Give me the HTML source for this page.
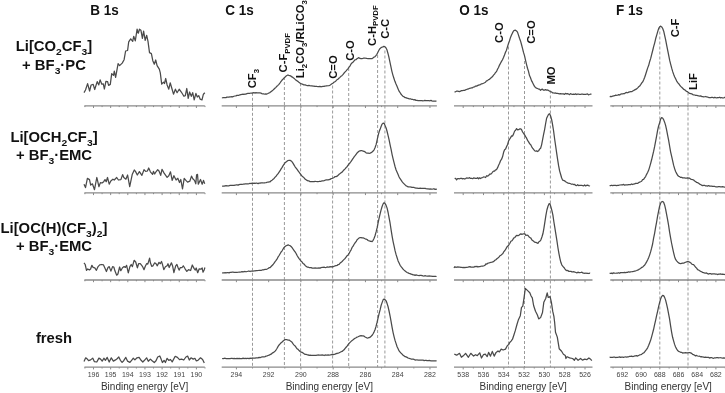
<!DOCTYPE html>
<html><head><meta charset="utf-8"><style>
html,body{margin:0;padding:0;background:#fff;}
svg{display:block;will-change:transform;}
text{font-family:"Liberation Sans",sans-serif;}
</style></head><body>
<svg width="725" height="393" viewBox="0 0 725 393" font-family="Liberation Sans, sans-serif">
<rect width="725" height="393" fill="#fff"/>
<line x1="252.5" y1="92.8" x2="252.5" y2="367.2" stroke="#9a9a9a" stroke-width="1" stroke-dasharray="3,2"/>
<line x1="284.4" y1="77.0" x2="284.4" y2="367.2" stroke="#9a9a9a" stroke-width="1" stroke-dasharray="3,2"/>
<line x1="300.6" y1="83.3" x2="300.6" y2="367.2" stroke="#9a9a9a" stroke-width="1" stroke-dasharray="3,2"/>
<line x1="332.6" y1="85.5" x2="332.6" y2="367.2" stroke="#9a9a9a" stroke-width="1" stroke-dasharray="3,2"/>
<line x1="348.7" y1="68.0" x2="348.7" y2="367.2" stroke="#9a9a9a" stroke-width="1" stroke-dasharray="3,2"/>
<line x1="377.6" y1="55.0" x2="377.6" y2="367.2" stroke="#9a9a9a" stroke-width="1" stroke-dasharray="3,2"/>
<line x1="384.9" y1="50.5" x2="384.9" y2="367.2" stroke="#9a9a9a" stroke-width="1" stroke-dasharray="3,2"/>
<line x1="508.5" y1="46.5" x2="508.5" y2="367.2" stroke="#9a9a9a" stroke-width="1" stroke-dasharray="3,2"/>
<line x1="524.5" y1="61.0" x2="524.5" y2="367.2" stroke="#9a9a9a" stroke-width="1" stroke-dasharray="3,2"/>
<line x1="550.4" y1="90.5" x2="550.4" y2="367.2" stroke="#9a9a9a" stroke-width="1" stroke-dasharray="3,2"/>
<line x1="659.8" y1="26.5" x2="659.8" y2="367.2" stroke="#9a9a9a" stroke-width="1" stroke-dasharray="3,2"/>
<line x1="688.0" y1="92.5" x2="688.0" y2="367.2" stroke="#9a9a9a" stroke-width="1" stroke-dasharray="3,2"/>
<line x1="84.4" y1="105.8" x2="204.8" y2="105.8" stroke="#8a8a8a" stroke-width="1.3"/>
<line x1="84.92" y1="105.8" x2="84.92" y2="107.10" stroke="#8a8a8a" stroke-width="1"/>
<line x1="93.50" y1="105.8" x2="93.50" y2="108.00" stroke="#8a8a8a" stroke-width="1"/>
<line x1="102.08" y1="105.8" x2="102.08" y2="107.10" stroke="#8a8a8a" stroke-width="1"/>
<line x1="110.65" y1="105.8" x2="110.65" y2="108.00" stroke="#8a8a8a" stroke-width="1"/>
<line x1="119.22" y1="105.8" x2="119.22" y2="107.10" stroke="#8a8a8a" stroke-width="1"/>
<line x1="127.80" y1="105.8" x2="127.80" y2="108.00" stroke="#8a8a8a" stroke-width="1"/>
<line x1="136.38" y1="105.8" x2="136.38" y2="107.10" stroke="#8a8a8a" stroke-width="1"/>
<line x1="144.95" y1="105.8" x2="144.95" y2="108.00" stroke="#8a8a8a" stroke-width="1"/>
<line x1="153.52" y1="105.8" x2="153.52" y2="107.10" stroke="#8a8a8a" stroke-width="1"/>
<line x1="162.10" y1="105.8" x2="162.10" y2="108.00" stroke="#8a8a8a" stroke-width="1"/>
<line x1="170.68" y1="105.8" x2="170.68" y2="107.10" stroke="#8a8a8a" stroke-width="1"/>
<line x1="179.25" y1="105.8" x2="179.25" y2="108.00" stroke="#8a8a8a" stroke-width="1"/>
<line x1="187.82" y1="105.8" x2="187.82" y2="107.10" stroke="#8a8a8a" stroke-width="1"/>
<line x1="196.40" y1="105.8" x2="196.40" y2="108.00" stroke="#8a8a8a" stroke-width="1"/>
<line x1="204.97" y1="105.8" x2="204.97" y2="107.10" stroke="#8a8a8a" stroke-width="1"/>
<line x1="84.4" y1="192.9" x2="204.8" y2="192.9" stroke="#8a8a8a" stroke-width="1.3"/>
<line x1="84.92" y1="192.9" x2="84.92" y2="194.20" stroke="#8a8a8a" stroke-width="1"/>
<line x1="93.50" y1="192.9" x2="93.50" y2="195.10" stroke="#8a8a8a" stroke-width="1"/>
<line x1="102.08" y1="192.9" x2="102.08" y2="194.20" stroke="#8a8a8a" stroke-width="1"/>
<line x1="110.65" y1="192.9" x2="110.65" y2="195.10" stroke="#8a8a8a" stroke-width="1"/>
<line x1="119.22" y1="192.9" x2="119.22" y2="194.20" stroke="#8a8a8a" stroke-width="1"/>
<line x1="127.80" y1="192.9" x2="127.80" y2="195.10" stroke="#8a8a8a" stroke-width="1"/>
<line x1="136.38" y1="192.9" x2="136.38" y2="194.20" stroke="#8a8a8a" stroke-width="1"/>
<line x1="144.95" y1="192.9" x2="144.95" y2="195.10" stroke="#8a8a8a" stroke-width="1"/>
<line x1="153.52" y1="192.9" x2="153.52" y2="194.20" stroke="#8a8a8a" stroke-width="1"/>
<line x1="162.10" y1="192.9" x2="162.10" y2="195.10" stroke="#8a8a8a" stroke-width="1"/>
<line x1="170.68" y1="192.9" x2="170.68" y2="194.20" stroke="#8a8a8a" stroke-width="1"/>
<line x1="179.25" y1="192.9" x2="179.25" y2="195.10" stroke="#8a8a8a" stroke-width="1"/>
<line x1="187.82" y1="192.9" x2="187.82" y2="194.20" stroke="#8a8a8a" stroke-width="1"/>
<line x1="196.40" y1="192.9" x2="196.40" y2="195.10" stroke="#8a8a8a" stroke-width="1"/>
<line x1="204.97" y1="192.9" x2="204.97" y2="194.20" stroke="#8a8a8a" stroke-width="1"/>
<line x1="84.4" y1="280.0" x2="204.8" y2="280.0" stroke="#8a8a8a" stroke-width="1.3"/>
<line x1="84.92" y1="280.0" x2="84.92" y2="281.30" stroke="#8a8a8a" stroke-width="1"/>
<line x1="93.50" y1="280.0" x2="93.50" y2="282.20" stroke="#8a8a8a" stroke-width="1"/>
<line x1="102.08" y1="280.0" x2="102.08" y2="281.30" stroke="#8a8a8a" stroke-width="1"/>
<line x1="110.65" y1="280.0" x2="110.65" y2="282.20" stroke="#8a8a8a" stroke-width="1"/>
<line x1="119.22" y1="280.0" x2="119.22" y2="281.30" stroke="#8a8a8a" stroke-width="1"/>
<line x1="127.80" y1="280.0" x2="127.80" y2="282.20" stroke="#8a8a8a" stroke-width="1"/>
<line x1="136.38" y1="280.0" x2="136.38" y2="281.30" stroke="#8a8a8a" stroke-width="1"/>
<line x1="144.95" y1="280.0" x2="144.95" y2="282.20" stroke="#8a8a8a" stroke-width="1"/>
<line x1="153.52" y1="280.0" x2="153.52" y2="281.30" stroke="#8a8a8a" stroke-width="1"/>
<line x1="162.10" y1="280.0" x2="162.10" y2="282.20" stroke="#8a8a8a" stroke-width="1"/>
<line x1="170.68" y1="280.0" x2="170.68" y2="281.30" stroke="#8a8a8a" stroke-width="1"/>
<line x1="179.25" y1="280.0" x2="179.25" y2="282.20" stroke="#8a8a8a" stroke-width="1"/>
<line x1="187.82" y1="280.0" x2="187.82" y2="281.30" stroke="#8a8a8a" stroke-width="1"/>
<line x1="196.40" y1="280.0" x2="196.40" y2="282.20" stroke="#8a8a8a" stroke-width="1"/>
<line x1="204.97" y1="280.0" x2="204.97" y2="281.30" stroke="#8a8a8a" stroke-width="1"/>
<line x1="84.4" y1="367.2" x2="204.8" y2="367.2" stroke="#8a8a8a" stroke-width="1.3"/>
<line x1="84.92" y1="367.2" x2="84.92" y2="368.50" stroke="#8a8a8a" stroke-width="1"/>
<line x1="93.50" y1="367.2" x2="93.50" y2="369.40" stroke="#8a8a8a" stroke-width="1"/>
<line x1="102.08" y1="367.2" x2="102.08" y2="368.50" stroke="#8a8a8a" stroke-width="1"/>
<line x1="110.65" y1="367.2" x2="110.65" y2="369.40" stroke="#8a8a8a" stroke-width="1"/>
<line x1="119.22" y1="367.2" x2="119.22" y2="368.50" stroke="#8a8a8a" stroke-width="1"/>
<line x1="127.80" y1="367.2" x2="127.80" y2="369.40" stroke="#8a8a8a" stroke-width="1"/>
<line x1="136.38" y1="367.2" x2="136.38" y2="368.50" stroke="#8a8a8a" stroke-width="1"/>
<line x1="144.95" y1="367.2" x2="144.95" y2="369.40" stroke="#8a8a8a" stroke-width="1"/>
<line x1="153.52" y1="367.2" x2="153.52" y2="368.50" stroke="#8a8a8a" stroke-width="1"/>
<line x1="162.10" y1="367.2" x2="162.10" y2="369.40" stroke="#8a8a8a" stroke-width="1"/>
<line x1="170.68" y1="367.2" x2="170.68" y2="368.50" stroke="#8a8a8a" stroke-width="1"/>
<line x1="179.25" y1="367.2" x2="179.25" y2="369.40" stroke="#8a8a8a" stroke-width="1"/>
<line x1="187.82" y1="367.2" x2="187.82" y2="368.50" stroke="#8a8a8a" stroke-width="1"/>
<line x1="196.40" y1="367.2" x2="196.40" y2="369.40" stroke="#8a8a8a" stroke-width="1"/>
<line x1="204.97" y1="367.2" x2="204.97" y2="368.50" stroke="#8a8a8a" stroke-width="1"/>
<text x="93.50" y="376.80" font-size="7" text-anchor="middle" fill="#444">196</text>
<text x="110.65" y="376.80" font-size="7" text-anchor="middle" fill="#444">195</text>
<text x="127.80" y="376.80" font-size="7" text-anchor="middle" fill="#444">194</text>
<text x="144.95" y="376.80" font-size="7" text-anchor="middle" fill="#444">193</text>
<text x="162.10" y="376.80" font-size="7" text-anchor="middle" fill="#444">192</text>
<text x="179.25" y="376.80" font-size="7" text-anchor="middle" fill="#444">191</text>
<text x="196.40" y="376.80" font-size="7" text-anchor="middle" fill="#444">190</text>
<text x="144.60" y="389.9" font-size="10" text-anchor="middle" fill="#333">Binding energy [eV]</text>
<line x1="221.7" y1="105.8" x2="436.9" y2="105.8" stroke="#8a8a8a" stroke-width="1.3"/>
<line x1="236.40" y1="105.8" x2="236.40" y2="108.00" stroke="#8a8a8a" stroke-width="1"/>
<line x1="252.53" y1="105.8" x2="252.53" y2="107.10" stroke="#8a8a8a" stroke-width="1"/>
<line x1="268.66" y1="105.8" x2="268.66" y2="108.00" stroke="#8a8a8a" stroke-width="1"/>
<line x1="284.79" y1="105.8" x2="284.79" y2="107.10" stroke="#8a8a8a" stroke-width="1"/>
<line x1="300.92" y1="105.8" x2="300.92" y2="108.00" stroke="#8a8a8a" stroke-width="1"/>
<line x1="317.05" y1="105.8" x2="317.05" y2="107.10" stroke="#8a8a8a" stroke-width="1"/>
<line x1="333.18" y1="105.8" x2="333.18" y2="108.00" stroke="#8a8a8a" stroke-width="1"/>
<line x1="349.31" y1="105.8" x2="349.31" y2="107.10" stroke="#8a8a8a" stroke-width="1"/>
<line x1="365.44" y1="105.8" x2="365.44" y2="108.00" stroke="#8a8a8a" stroke-width="1"/>
<line x1="381.57" y1="105.8" x2="381.57" y2="107.10" stroke="#8a8a8a" stroke-width="1"/>
<line x1="397.70" y1="105.8" x2="397.70" y2="108.00" stroke="#8a8a8a" stroke-width="1"/>
<line x1="413.83" y1="105.8" x2="413.83" y2="107.10" stroke="#8a8a8a" stroke-width="1"/>
<line x1="429.96" y1="105.8" x2="429.96" y2="108.00" stroke="#8a8a8a" stroke-width="1"/>
<line x1="221.7" y1="192.9" x2="436.9" y2="192.9" stroke="#8a8a8a" stroke-width="1.3"/>
<line x1="236.40" y1="192.9" x2="236.40" y2="195.10" stroke="#8a8a8a" stroke-width="1"/>
<line x1="252.53" y1="192.9" x2="252.53" y2="194.20" stroke="#8a8a8a" stroke-width="1"/>
<line x1="268.66" y1="192.9" x2="268.66" y2="195.10" stroke="#8a8a8a" stroke-width="1"/>
<line x1="284.79" y1="192.9" x2="284.79" y2="194.20" stroke="#8a8a8a" stroke-width="1"/>
<line x1="300.92" y1="192.9" x2="300.92" y2="195.10" stroke="#8a8a8a" stroke-width="1"/>
<line x1="317.05" y1="192.9" x2="317.05" y2="194.20" stroke="#8a8a8a" stroke-width="1"/>
<line x1="333.18" y1="192.9" x2="333.18" y2="195.10" stroke="#8a8a8a" stroke-width="1"/>
<line x1="349.31" y1="192.9" x2="349.31" y2="194.20" stroke="#8a8a8a" stroke-width="1"/>
<line x1="365.44" y1="192.9" x2="365.44" y2="195.10" stroke="#8a8a8a" stroke-width="1"/>
<line x1="381.57" y1="192.9" x2="381.57" y2="194.20" stroke="#8a8a8a" stroke-width="1"/>
<line x1="397.70" y1="192.9" x2="397.70" y2="195.10" stroke="#8a8a8a" stroke-width="1"/>
<line x1="413.83" y1="192.9" x2="413.83" y2="194.20" stroke="#8a8a8a" stroke-width="1"/>
<line x1="429.96" y1="192.9" x2="429.96" y2="195.10" stroke="#8a8a8a" stroke-width="1"/>
<line x1="221.7" y1="280.0" x2="436.9" y2="280.0" stroke="#8a8a8a" stroke-width="1.3"/>
<line x1="236.40" y1="280.0" x2="236.40" y2="282.20" stroke="#8a8a8a" stroke-width="1"/>
<line x1="252.53" y1="280.0" x2="252.53" y2="281.30" stroke="#8a8a8a" stroke-width="1"/>
<line x1="268.66" y1="280.0" x2="268.66" y2="282.20" stroke="#8a8a8a" stroke-width="1"/>
<line x1="284.79" y1="280.0" x2="284.79" y2="281.30" stroke="#8a8a8a" stroke-width="1"/>
<line x1="300.92" y1="280.0" x2="300.92" y2="282.20" stroke="#8a8a8a" stroke-width="1"/>
<line x1="317.05" y1="280.0" x2="317.05" y2="281.30" stroke="#8a8a8a" stroke-width="1"/>
<line x1="333.18" y1="280.0" x2="333.18" y2="282.20" stroke="#8a8a8a" stroke-width="1"/>
<line x1="349.31" y1="280.0" x2="349.31" y2="281.30" stroke="#8a8a8a" stroke-width="1"/>
<line x1="365.44" y1="280.0" x2="365.44" y2="282.20" stroke="#8a8a8a" stroke-width="1"/>
<line x1="381.57" y1="280.0" x2="381.57" y2="281.30" stroke="#8a8a8a" stroke-width="1"/>
<line x1="397.70" y1="280.0" x2="397.70" y2="282.20" stroke="#8a8a8a" stroke-width="1"/>
<line x1="413.83" y1="280.0" x2="413.83" y2="281.30" stroke="#8a8a8a" stroke-width="1"/>
<line x1="429.96" y1="280.0" x2="429.96" y2="282.20" stroke="#8a8a8a" stroke-width="1"/>
<line x1="221.7" y1="367.2" x2="436.9" y2="367.2" stroke="#8a8a8a" stroke-width="1.3"/>
<line x1="236.40" y1="367.2" x2="236.40" y2="369.40" stroke="#8a8a8a" stroke-width="1"/>
<line x1="252.53" y1="367.2" x2="252.53" y2="368.50" stroke="#8a8a8a" stroke-width="1"/>
<line x1="268.66" y1="367.2" x2="268.66" y2="369.40" stroke="#8a8a8a" stroke-width="1"/>
<line x1="284.79" y1="367.2" x2="284.79" y2="368.50" stroke="#8a8a8a" stroke-width="1"/>
<line x1="300.92" y1="367.2" x2="300.92" y2="369.40" stroke="#8a8a8a" stroke-width="1"/>
<line x1="317.05" y1="367.2" x2="317.05" y2="368.50" stroke="#8a8a8a" stroke-width="1"/>
<line x1="333.18" y1="367.2" x2="333.18" y2="369.40" stroke="#8a8a8a" stroke-width="1"/>
<line x1="349.31" y1="367.2" x2="349.31" y2="368.50" stroke="#8a8a8a" stroke-width="1"/>
<line x1="365.44" y1="367.2" x2="365.44" y2="369.40" stroke="#8a8a8a" stroke-width="1"/>
<line x1="381.57" y1="367.2" x2="381.57" y2="368.50" stroke="#8a8a8a" stroke-width="1"/>
<line x1="397.70" y1="367.2" x2="397.70" y2="369.40" stroke="#8a8a8a" stroke-width="1"/>
<line x1="413.83" y1="367.2" x2="413.83" y2="368.50" stroke="#8a8a8a" stroke-width="1"/>
<line x1="429.96" y1="367.2" x2="429.96" y2="369.40" stroke="#8a8a8a" stroke-width="1"/>
<text x="236.40" y="376.80" font-size="7" text-anchor="middle" fill="#444">294</text>
<text x="268.66" y="376.80" font-size="7" text-anchor="middle" fill="#444">292</text>
<text x="300.92" y="376.80" font-size="7" text-anchor="middle" fill="#444">290</text>
<text x="333.18" y="376.80" font-size="7" text-anchor="middle" fill="#444">288</text>
<text x="365.44" y="376.80" font-size="7" text-anchor="middle" fill="#444">286</text>
<text x="397.70" y="376.80" font-size="7" text-anchor="middle" fill="#444">284</text>
<text x="429.96" y="376.80" font-size="7" text-anchor="middle" fill="#444">282</text>
<text x="329.30" y="389.9" font-size="10" text-anchor="middle" fill="#333">Binding energy [eV]</text>
<line x1="454.0" y1="105.8" x2="592.5" y2="105.8" stroke="#8a8a8a" stroke-width="1.3"/>
<line x1="463.20" y1="105.8" x2="463.20" y2="108.00" stroke="#8a8a8a" stroke-width="1"/>
<line x1="473.35" y1="105.8" x2="473.35" y2="107.10" stroke="#8a8a8a" stroke-width="1"/>
<line x1="483.50" y1="105.8" x2="483.50" y2="108.00" stroke="#8a8a8a" stroke-width="1"/>
<line x1="493.65" y1="105.8" x2="493.65" y2="107.10" stroke="#8a8a8a" stroke-width="1"/>
<line x1="503.80" y1="105.8" x2="503.80" y2="108.00" stroke="#8a8a8a" stroke-width="1"/>
<line x1="513.95" y1="105.8" x2="513.95" y2="107.10" stroke="#8a8a8a" stroke-width="1"/>
<line x1="524.10" y1="105.8" x2="524.10" y2="108.00" stroke="#8a8a8a" stroke-width="1"/>
<line x1="534.25" y1="105.8" x2="534.25" y2="107.10" stroke="#8a8a8a" stroke-width="1"/>
<line x1="544.40" y1="105.8" x2="544.40" y2="108.00" stroke="#8a8a8a" stroke-width="1"/>
<line x1="554.55" y1="105.8" x2="554.55" y2="107.10" stroke="#8a8a8a" stroke-width="1"/>
<line x1="564.70" y1="105.8" x2="564.70" y2="108.00" stroke="#8a8a8a" stroke-width="1"/>
<line x1="574.85" y1="105.8" x2="574.85" y2="107.10" stroke="#8a8a8a" stroke-width="1"/>
<line x1="585.00" y1="105.8" x2="585.00" y2="108.00" stroke="#8a8a8a" stroke-width="1"/>
<line x1="454.0" y1="192.9" x2="592.5" y2="192.9" stroke="#8a8a8a" stroke-width="1.3"/>
<line x1="463.20" y1="192.9" x2="463.20" y2="195.10" stroke="#8a8a8a" stroke-width="1"/>
<line x1="473.35" y1="192.9" x2="473.35" y2="194.20" stroke="#8a8a8a" stroke-width="1"/>
<line x1="483.50" y1="192.9" x2="483.50" y2="195.10" stroke="#8a8a8a" stroke-width="1"/>
<line x1="493.65" y1="192.9" x2="493.65" y2="194.20" stroke="#8a8a8a" stroke-width="1"/>
<line x1="503.80" y1="192.9" x2="503.80" y2="195.10" stroke="#8a8a8a" stroke-width="1"/>
<line x1="513.95" y1="192.9" x2="513.95" y2="194.20" stroke="#8a8a8a" stroke-width="1"/>
<line x1="524.10" y1="192.9" x2="524.10" y2="195.10" stroke="#8a8a8a" stroke-width="1"/>
<line x1="534.25" y1="192.9" x2="534.25" y2="194.20" stroke="#8a8a8a" stroke-width="1"/>
<line x1="544.40" y1="192.9" x2="544.40" y2="195.10" stroke="#8a8a8a" stroke-width="1"/>
<line x1="554.55" y1="192.9" x2="554.55" y2="194.20" stroke="#8a8a8a" stroke-width="1"/>
<line x1="564.70" y1="192.9" x2="564.70" y2="195.10" stroke="#8a8a8a" stroke-width="1"/>
<line x1="574.85" y1="192.9" x2="574.85" y2="194.20" stroke="#8a8a8a" stroke-width="1"/>
<line x1="585.00" y1="192.9" x2="585.00" y2="195.10" stroke="#8a8a8a" stroke-width="1"/>
<line x1="454.0" y1="280.0" x2="592.5" y2="280.0" stroke="#8a8a8a" stroke-width="1.3"/>
<line x1="463.20" y1="280.0" x2="463.20" y2="282.20" stroke="#8a8a8a" stroke-width="1"/>
<line x1="473.35" y1="280.0" x2="473.35" y2="281.30" stroke="#8a8a8a" stroke-width="1"/>
<line x1="483.50" y1="280.0" x2="483.50" y2="282.20" stroke="#8a8a8a" stroke-width="1"/>
<line x1="493.65" y1="280.0" x2="493.65" y2="281.30" stroke="#8a8a8a" stroke-width="1"/>
<line x1="503.80" y1="280.0" x2="503.80" y2="282.20" stroke="#8a8a8a" stroke-width="1"/>
<line x1="513.95" y1="280.0" x2="513.95" y2="281.30" stroke="#8a8a8a" stroke-width="1"/>
<line x1="524.10" y1="280.0" x2="524.10" y2="282.20" stroke="#8a8a8a" stroke-width="1"/>
<line x1="534.25" y1="280.0" x2="534.25" y2="281.30" stroke="#8a8a8a" stroke-width="1"/>
<line x1="544.40" y1="280.0" x2="544.40" y2="282.20" stroke="#8a8a8a" stroke-width="1"/>
<line x1="554.55" y1="280.0" x2="554.55" y2="281.30" stroke="#8a8a8a" stroke-width="1"/>
<line x1="564.70" y1="280.0" x2="564.70" y2="282.20" stroke="#8a8a8a" stroke-width="1"/>
<line x1="574.85" y1="280.0" x2="574.85" y2="281.30" stroke="#8a8a8a" stroke-width="1"/>
<line x1="585.00" y1="280.0" x2="585.00" y2="282.20" stroke="#8a8a8a" stroke-width="1"/>
<line x1="454.0" y1="367.2" x2="592.5" y2="367.2" stroke="#8a8a8a" stroke-width="1.3"/>
<line x1="463.20" y1="367.2" x2="463.20" y2="369.40" stroke="#8a8a8a" stroke-width="1"/>
<line x1="473.35" y1="367.2" x2="473.35" y2="368.50" stroke="#8a8a8a" stroke-width="1"/>
<line x1="483.50" y1="367.2" x2="483.50" y2="369.40" stroke="#8a8a8a" stroke-width="1"/>
<line x1="493.65" y1="367.2" x2="493.65" y2="368.50" stroke="#8a8a8a" stroke-width="1"/>
<line x1="503.80" y1="367.2" x2="503.80" y2="369.40" stroke="#8a8a8a" stroke-width="1"/>
<line x1="513.95" y1="367.2" x2="513.95" y2="368.50" stroke="#8a8a8a" stroke-width="1"/>
<line x1="524.10" y1="367.2" x2="524.10" y2="369.40" stroke="#8a8a8a" stroke-width="1"/>
<line x1="534.25" y1="367.2" x2="534.25" y2="368.50" stroke="#8a8a8a" stroke-width="1"/>
<line x1="544.40" y1="367.2" x2="544.40" y2="369.40" stroke="#8a8a8a" stroke-width="1"/>
<line x1="554.55" y1="367.2" x2="554.55" y2="368.50" stroke="#8a8a8a" stroke-width="1"/>
<line x1="564.70" y1="367.2" x2="564.70" y2="369.40" stroke="#8a8a8a" stroke-width="1"/>
<line x1="574.85" y1="367.2" x2="574.85" y2="368.50" stroke="#8a8a8a" stroke-width="1"/>
<line x1="585.00" y1="367.2" x2="585.00" y2="369.40" stroke="#8a8a8a" stroke-width="1"/>
<text x="463.20" y="376.80" font-size="7" text-anchor="middle" fill="#444">538</text>
<text x="483.50" y="376.80" font-size="7" text-anchor="middle" fill="#444">536</text>
<text x="503.80" y="376.80" font-size="7" text-anchor="middle" fill="#444">534</text>
<text x="524.10" y="376.80" font-size="7" text-anchor="middle" fill="#444">532</text>
<text x="544.40" y="376.80" font-size="7" text-anchor="middle" fill="#444">530</text>
<text x="564.70" y="376.80" font-size="7" text-anchor="middle" fill="#444">528</text>
<text x="585.00" y="376.80" font-size="7" text-anchor="middle" fill="#444">526</text>
<text x="523.25" y="389.9" font-size="10" text-anchor="middle" fill="#333">Binding energy [eV]</text>
<line x1="610.3" y1="105.8" x2="727.0" y2="105.8" stroke="#8a8a8a" stroke-width="1.3"/>
<line x1="613.05" y1="105.8" x2="613.05" y2="107.10" stroke="#8a8a8a" stroke-width="1"/>
<line x1="622.40" y1="105.8" x2="622.40" y2="108.00" stroke="#8a8a8a" stroke-width="1"/>
<line x1="631.75" y1="105.8" x2="631.75" y2="107.10" stroke="#8a8a8a" stroke-width="1"/>
<line x1="641.10" y1="105.8" x2="641.10" y2="108.00" stroke="#8a8a8a" stroke-width="1"/>
<line x1="650.45" y1="105.8" x2="650.45" y2="107.10" stroke="#8a8a8a" stroke-width="1"/>
<line x1="659.80" y1="105.8" x2="659.80" y2="108.00" stroke="#8a8a8a" stroke-width="1"/>
<line x1="669.15" y1="105.8" x2="669.15" y2="107.10" stroke="#8a8a8a" stroke-width="1"/>
<line x1="678.50" y1="105.8" x2="678.50" y2="108.00" stroke="#8a8a8a" stroke-width="1"/>
<line x1="687.85" y1="105.8" x2="687.85" y2="107.10" stroke="#8a8a8a" stroke-width="1"/>
<line x1="697.20" y1="105.8" x2="697.20" y2="108.00" stroke="#8a8a8a" stroke-width="1"/>
<line x1="706.55" y1="105.8" x2="706.55" y2="107.10" stroke="#8a8a8a" stroke-width="1"/>
<line x1="715.90" y1="105.8" x2="715.90" y2="108.00" stroke="#8a8a8a" stroke-width="1"/>
<line x1="725.25" y1="105.8" x2="725.25" y2="107.10" stroke="#8a8a8a" stroke-width="1"/>
<line x1="610.3" y1="192.9" x2="727.0" y2="192.9" stroke="#8a8a8a" stroke-width="1.3"/>
<line x1="613.05" y1="192.9" x2="613.05" y2="194.20" stroke="#8a8a8a" stroke-width="1"/>
<line x1="622.40" y1="192.9" x2="622.40" y2="195.10" stroke="#8a8a8a" stroke-width="1"/>
<line x1="631.75" y1="192.9" x2="631.75" y2="194.20" stroke="#8a8a8a" stroke-width="1"/>
<line x1="641.10" y1="192.9" x2="641.10" y2="195.10" stroke="#8a8a8a" stroke-width="1"/>
<line x1="650.45" y1="192.9" x2="650.45" y2="194.20" stroke="#8a8a8a" stroke-width="1"/>
<line x1="659.80" y1="192.9" x2="659.80" y2="195.10" stroke="#8a8a8a" stroke-width="1"/>
<line x1="669.15" y1="192.9" x2="669.15" y2="194.20" stroke="#8a8a8a" stroke-width="1"/>
<line x1="678.50" y1="192.9" x2="678.50" y2="195.10" stroke="#8a8a8a" stroke-width="1"/>
<line x1="687.85" y1="192.9" x2="687.85" y2="194.20" stroke="#8a8a8a" stroke-width="1"/>
<line x1="697.20" y1="192.9" x2="697.20" y2="195.10" stroke="#8a8a8a" stroke-width="1"/>
<line x1="706.55" y1="192.9" x2="706.55" y2="194.20" stroke="#8a8a8a" stroke-width="1"/>
<line x1="715.90" y1="192.9" x2="715.90" y2="195.10" stroke="#8a8a8a" stroke-width="1"/>
<line x1="725.25" y1="192.9" x2="725.25" y2="194.20" stroke="#8a8a8a" stroke-width="1"/>
<line x1="610.3" y1="280.0" x2="727.0" y2="280.0" stroke="#8a8a8a" stroke-width="1.3"/>
<line x1="613.05" y1="280.0" x2="613.05" y2="281.30" stroke="#8a8a8a" stroke-width="1"/>
<line x1="622.40" y1="280.0" x2="622.40" y2="282.20" stroke="#8a8a8a" stroke-width="1"/>
<line x1="631.75" y1="280.0" x2="631.75" y2="281.30" stroke="#8a8a8a" stroke-width="1"/>
<line x1="641.10" y1="280.0" x2="641.10" y2="282.20" stroke="#8a8a8a" stroke-width="1"/>
<line x1="650.45" y1="280.0" x2="650.45" y2="281.30" stroke="#8a8a8a" stroke-width="1"/>
<line x1="659.80" y1="280.0" x2="659.80" y2="282.20" stroke="#8a8a8a" stroke-width="1"/>
<line x1="669.15" y1="280.0" x2="669.15" y2="281.30" stroke="#8a8a8a" stroke-width="1"/>
<line x1="678.50" y1="280.0" x2="678.50" y2="282.20" stroke="#8a8a8a" stroke-width="1"/>
<line x1="687.85" y1="280.0" x2="687.85" y2="281.30" stroke="#8a8a8a" stroke-width="1"/>
<line x1="697.20" y1="280.0" x2="697.20" y2="282.20" stroke="#8a8a8a" stroke-width="1"/>
<line x1="706.55" y1="280.0" x2="706.55" y2="281.30" stroke="#8a8a8a" stroke-width="1"/>
<line x1="715.90" y1="280.0" x2="715.90" y2="282.20" stroke="#8a8a8a" stroke-width="1"/>
<line x1="725.25" y1="280.0" x2="725.25" y2="281.30" stroke="#8a8a8a" stroke-width="1"/>
<line x1="610.3" y1="367.2" x2="727.0" y2="367.2" stroke="#8a8a8a" stroke-width="1.3"/>
<line x1="613.05" y1="367.2" x2="613.05" y2="368.50" stroke="#8a8a8a" stroke-width="1"/>
<line x1="622.40" y1="367.2" x2="622.40" y2="369.40" stroke="#8a8a8a" stroke-width="1"/>
<line x1="631.75" y1="367.2" x2="631.75" y2="368.50" stroke="#8a8a8a" stroke-width="1"/>
<line x1="641.10" y1="367.2" x2="641.10" y2="369.40" stroke="#8a8a8a" stroke-width="1"/>
<line x1="650.45" y1="367.2" x2="650.45" y2="368.50" stroke="#8a8a8a" stroke-width="1"/>
<line x1="659.80" y1="367.2" x2="659.80" y2="369.40" stroke="#8a8a8a" stroke-width="1"/>
<line x1="669.15" y1="367.2" x2="669.15" y2="368.50" stroke="#8a8a8a" stroke-width="1"/>
<line x1="678.50" y1="367.2" x2="678.50" y2="369.40" stroke="#8a8a8a" stroke-width="1"/>
<line x1="687.85" y1="367.2" x2="687.85" y2="368.50" stroke="#8a8a8a" stroke-width="1"/>
<line x1="697.20" y1="367.2" x2="697.20" y2="369.40" stroke="#8a8a8a" stroke-width="1"/>
<line x1="706.55" y1="367.2" x2="706.55" y2="368.50" stroke="#8a8a8a" stroke-width="1"/>
<line x1="715.90" y1="367.2" x2="715.90" y2="369.40" stroke="#8a8a8a" stroke-width="1"/>
<line x1="725.25" y1="367.2" x2="725.25" y2="368.50" stroke="#8a8a8a" stroke-width="1"/>
<text x="622.40" y="376.80" font-size="7" text-anchor="middle" fill="#444">692</text>
<text x="641.10" y="376.80" font-size="7" text-anchor="middle" fill="#444">690</text>
<text x="659.80" y="376.80" font-size="7" text-anchor="middle" fill="#444">688</text>
<text x="678.50" y="376.80" font-size="7" text-anchor="middle" fill="#444">686</text>
<text x="697.20" y="376.80" font-size="7" text-anchor="middle" fill="#444">684</text>
<text x="715.90" y="376.80" font-size="7" text-anchor="middle" fill="#444">682</text>
<text x="668.20" y="389.9" font-size="10" text-anchor="middle" fill="#333">Binding energy [eV]</text>
<path d="M84.00,92.60 L85.50,90.00 L87.60,83.60 L89.60,91.00 L91.10,85.00 L93.20,84.40 L94.70,89.50 L97.20,81.60 L98.80,84.90 L100.10,79.80 L101.80,84.20 L103.30,83.90 L104.40,89.00 L105.90,81.40 L107.60,81.60 L108.60,85.40 L110.30,84.40 L111.70,73.70 L113.50,75.30 L114.30,71.20 L115.60,77.30 L118.10,63.60 L119.60,65.60 L122.20,63.10 L124.10,59.70 L125.60,51.00 L127.60,50.50 L128.70,41.90 L130.70,38.80 L132.70,41.40 L133.70,36.30 L135.30,40.90 L137.10,29.20 L138.30,33.20 L139.50,29.20 L140.90,30.20 L142.40,38.30 L143.60,31.20 L145.20,40.40 L146.70,35.30 L148.00,41.40 L149.50,52.60 L151.40,53.60 L152.80,60.70 L154.30,64.20 L155.70,60.00 L157.10,65.70 L159.30,69.20 L160.30,72.80 L161.70,84.20 L163.50,82.10 L164.50,83.50 L165.70,78.50 L167.10,84.90 L168.80,89.20 L170.20,82.80 L172.10,89.20 L173.50,94.20 L175.40,89.20 L177.10,92.70 L179.20,89.20 L181.30,92.00 L183.90,96.30 L185.30,95.60 L186.80,88.50 L188.20,98.40 L189.60,92.00 L191.30,96.30 L192.70,92.70 L194.20,99.90 L195.90,93.40 L197.30,97.00 L198.70,95.60 L200.10,99.10 L202.00,99.90 L203.40,94.20 L204.80,92.70" fill="none" stroke="#4a4a4a" stroke-width="1.25" stroke-linejoin="round"/>
<path d="M84.00,184.20 L85.50,187.60 L87.40,178.40 L89.50,179.60 L90.70,185.10 L92.40,183.80 L94.50,189.70 L96.80,177.50 L97.80,181.70 L98.90,186.70 L100.40,182.60 L102.00,183.00 L103.70,181.70 L105.00,179.60 L106.20,181.70 L107.50,177.50 L109.20,184.20 L110.80,180.90 L112.90,179.20 L114.20,180.00 L116.70,177.50 L118.40,180.00 L120.90,179.60 L122.60,174.60 L123.80,177.50 L125.90,179.20 L127.60,175.00 L129.70,186.70 L132.20,174.60 L134.30,170.00 L135.60,171.60 L137.30,175.00 L139.40,171.60 L141.90,175.40 L144.00,169.70 L145.70,171.40 L147.40,171.00 L148.70,168.00 L150.40,171.80 L152.60,174.40 L153.40,171.40 L154.70,174.00 L156.00,171.80 L157.70,169.70 L159.00,171.00 L160.70,175.30 L162.00,169.30 L164.10,173.10 L167.10,177.40 L168.80,175.70 L170.50,171.80 L172.20,180.40 L173.90,175.70 L176.10,180.00 L177.80,178.30 L179.50,182.50 L180.80,179.50 L182.50,188.90 L184.20,178.30 L185.90,180.40 L187.60,182.10 L189.80,181.20 L191.50,176.10 L192.80,178.70 L194.50,180.40 L195.80,183.80 L196.60,174.80 L197.50,174.40 L198.30,184.20 L200.50,179.50 L202.20,184.20 L203.50,180.40 L204.70,183.80" fill="none" stroke="#4a4a4a" stroke-width="1.25" stroke-linejoin="round"/>
<path d="M84.00,262.80 L85.20,264.50 L86.50,270.30 L87.70,269.00 L89.40,269.90 L90.60,269.00 L91.90,265.30 L93.10,267.40 L94.80,267.80 L96.40,270.30 L98.10,266.60 L99.70,264.90 L101.80,264.50 L103.50,264.90 L105.10,268.60 L106.40,271.50 L108.00,267.40 L109.20,266.60 L110.90,271.10 L112.60,266.60 L113.80,267.00 L115.00,271.10 L116.70,275.20 L117.90,274.00 L119.60,267.00 L120.80,270.70 L122.50,267.80 L124.10,266.60 L125.40,267.40 L126.60,265.30 L128.30,272.80 L129.90,266.60 L131.20,264.50 L132.40,266.60 L134.10,260.30 L135.70,262.00 L137.40,267.80 L138.60,263.70 L140.30,263.70 L141.90,265.70 L142.80,267.00 L144.00,269.70 L145.30,266.30 L146.60,263.70 L147.80,264.10 L149.60,258.10 L150.40,262.80 L151.70,266.30 L153.00,265.80 L154.70,262.80 L156.00,263.70 L157.30,265.80 L159.00,262.40 L160.30,263.70 L161.50,261.50 L162.40,264.10 L163.80,269.70 L165.40,266.70 L167.10,265.80 L168.00,263.70 L169.20,267.50 L171.40,262.80 L172.70,266.30 L173.90,272.70 L175.70,265.80 L176.90,264.50 L178.20,268.00 L179.10,270.10 L180.40,267.50 L182.10,267.50 L183.30,265.80 L185.10,268.80 L186.80,271.40 L188.50,269.70 L190.60,270.50 L192.30,265.00 L194.00,268.40 L195.30,270.10 L196.20,268.00 L197.70,272.70 L199.20,268.80 L200.90,269.20 L202.20,268.00 L203.00,272.20 L204.30,269.70 L204.90,267.50" fill="none" stroke="#4a4a4a" stroke-width="1.25" stroke-linejoin="round"/>
<path d="M84.00,361.60 L85.70,357.80 L87.30,359.10 L88.60,360.70 L90.60,359.90 L92.70,358.10 L94.30,361.60 L96.80,362.00 L98.90,358.10 L100.60,359.10 L102.20,361.10 L103.90,358.20 L105.40,360.30 L107.20,357.40 L109.20,362.00 L111.30,357.80 L113.40,361.10 L115.50,359.90 L117.10,358.70 L118.80,357.00 L120.40,360.30 L122.10,362.40 L123.70,360.70 L125.80,357.40 L127.50,361.10 L129.90,362.40 L131.60,360.30 L133.30,358.20 L134.90,359.90 L137.00,357.80 L139.10,357.40 L141.10,360.30 L142.80,362.00 L144.00,360.80 L146.60,357.80 L148.30,361.30 L150.40,359.10 L152.10,360.80 L154.30,362.50 L156.00,360.80 L157.70,357.00 L159.80,356.00 L161.10,359.10 L162.40,362.50 L164.10,360.40 L165.40,362.50 L167.10,358.30 L168.80,360.40 L170.50,359.50 L172.20,361.90 L175.20,356.30 L177.40,357.40 L179.50,359.70 L181.60,359.10 L183.80,360.00 L185.90,357.00 L187.60,356.10 L189.30,360.00 L191.00,357.80 L193.20,359.10 L194.90,358.30 L196.20,360.80 L197.90,360.40 L200.50,357.80 L202.60,359.50 L204.30,363.00" fill="none" stroke="#4a4a4a" stroke-width="1.25" stroke-linejoin="round"/>
<path d="M221.90,97.76 L222.90,97.73 L223.90,97.61 L224.90,97.55 L225.90,97.60 L226.90,97.12 L227.90,97.20 L228.90,97.05 L229.90,96.83 L230.90,96.78 L231.90,96.61 L232.90,96.78 L233.90,96.25 L234.90,96.00 L235.90,95.92 L236.90,95.43 L237.90,95.29 L238.90,95.26 L239.90,94.90 L240.90,94.63 L241.90,94.49 L242.90,94.17 L243.90,94.34 L244.90,94.17 L245.90,94.18 L246.90,93.57 L247.90,93.42 L248.90,93.28 L249.90,93.26 L250.90,93.07 L251.90,93.09 L252.90,92.86 L253.90,92.64 L254.90,93.04 L255.90,92.70 L256.90,92.95 L257.90,92.76 L258.90,92.90 L259.90,92.77 L260.90,93.10 L261.90,93.57 L262.90,93.87 L263.90,93.99 L264.90,94.20 L265.90,93.92 L266.90,94.05 L267.90,93.55 L268.90,92.98 L269.90,92.59 L270.90,91.76 L271.90,90.91 L272.90,90.14 L273.90,89.23 L274.90,88.28 L275.90,87.34 L276.90,86.22 L277.90,85.35 L278.90,84.32 L279.90,83.01 L280.90,81.54 L281.90,80.28 L282.90,79.30 L283.90,78.11 L284.90,77.28 L285.90,76.15 L286.90,75.45 L287.90,74.98 L288.90,75.37 L289.90,75.60 L290.90,76.07 L291.90,76.93 L292.90,77.39 L293.90,78.15 L294.90,79.15 L295.90,80.09 L296.90,80.69 L297.90,81.36 L298.90,82.25 L299.90,83.00 L300.90,83.60 L301.90,83.94 L302.90,84.42 L303.90,84.96 L304.90,84.86 L305.90,85.21 L306.90,85.52 L307.90,85.61 L308.90,85.47 L309.90,85.63 L310.90,85.76 L311.90,85.75 L312.90,86.07 L313.90,86.06 L314.90,86.41 L315.90,86.28 L316.90,86.45 L317.90,86.54 L318.90,86.69 L319.90,86.32 L320.90,86.79 L321.90,86.52 L322.90,86.45 L323.90,86.45 L324.90,86.09 L325.90,85.97 L326.90,85.76 L327.90,85.75 L328.90,85.55 L329.90,85.22 L330.90,84.50 L331.90,83.73 L332.90,83.25 L333.90,82.32 L334.90,81.73 L335.90,80.90 L336.90,79.83 L337.90,79.26 L338.90,78.30 L339.90,77.35 L340.90,76.33 L341.90,75.65 L342.90,74.63 L343.90,73.28 L344.90,72.17 L345.90,71.04 L346.90,69.83 L347.90,68.83 L348.90,67.24 L349.90,66.12 L350.90,64.22 L351.90,63.02 L352.90,62.29 L353.90,61.10 L354.90,59.91 L355.90,59.70 L356.90,58.75 L357.90,58.17 L358.90,57.63 L359.90,58.45 L360.90,58.57 L361.90,58.52 L362.90,58.37 L363.90,58.03 L364.90,58.03 L365.90,58.26 L366.90,58.44 L367.90,58.54 L368.90,58.63 L369.90,58.67 L370.90,58.68 L371.90,58.69 L372.90,57.95 L373.90,57.14 L374.90,56.71 L375.90,55.68 L376.90,54.33 L377.90,52.30 L378.90,50.30 L379.90,48.64 L380.90,47.85 L381.90,47.16 L382.90,46.88 L383.90,46.36 L384.90,46.80 L385.90,47.72 L386.90,49.69 L387.90,53.21 L388.90,57.10 L389.90,61.84 L390.90,66.67 L391.90,71.33 L392.90,75.08 L393.90,78.30 L394.90,81.35 L395.90,83.82 L396.90,86.05 L397.90,88.51 L398.90,90.87 L399.90,92.29 L400.90,93.98 L401.90,95.19 L402.90,96.27 L403.90,96.67 L404.90,97.57 L405.90,97.65 L406.90,98.20 L407.90,98.31 L408.90,98.77 L409.90,98.89 L410.90,98.99 L411.90,99.48 L412.90,99.49 L413.90,99.92 L414.90,99.61 L415.90,100.38 L416.90,100.27 L417.90,100.67 L418.90,100.62 L419.90,100.61 L420.90,100.63 L421.90,100.61 L422.90,100.78 L423.90,100.63 L424.90,100.41 L425.90,100.57 L426.90,100.66 L427.90,100.61 L428.90,100.68 L429.90,100.78 L430.90,100.43 L431.90,100.92 L432.90,101.23 L433.90,101.19 L434.90,101.19 L435.90,101.20 L436.40,101.40" fill="none" stroke="#4a4a4a" stroke-width="1.25" stroke-linejoin="round"/>
<path d="M222.10,186.02 L223.10,186.18 L224.10,186.19 L225.10,185.88 L226.10,185.68 L227.10,185.79 L228.10,185.79 L229.10,185.80 L230.10,185.37 L231.10,185.27 L232.10,185.48 L233.10,185.36 L234.10,185.42 L235.10,185.24 L236.10,184.97 L237.10,184.83 L238.10,185.15 L239.10,184.60 L240.10,184.42 L241.10,184.25 L242.10,184.32 L243.10,184.22 L244.10,184.03 L245.10,183.97 L246.10,183.92 L247.10,183.88 L248.10,183.85 L249.10,183.63 L250.10,183.26 L251.10,183.57 L252.10,183.20 L253.10,183.33 L254.10,183.10 L255.10,183.28 L256.10,183.12 L257.10,183.23 L258.10,183.65 L259.10,183.11 L260.10,183.20 L261.10,182.82 L262.10,182.92 L263.10,182.99 L264.10,182.79 L265.10,182.76 L266.10,182.57 L267.10,182.23 L268.10,182.25 L269.10,181.76 L270.10,181.76 L271.10,180.80 L272.10,180.17 L273.10,179.21 L274.10,178.42 L275.10,177.12 L276.10,176.19 L277.10,174.76 L278.10,173.66 L279.10,172.20 L280.10,170.69 L281.10,168.89 L282.10,167.35 L283.10,165.58 L284.10,164.23 L285.10,162.74 L286.10,161.92 L287.10,161.12 L288.10,160.52 L289.10,160.26 L290.10,160.37 L291.10,160.84 L292.10,161.87 L293.10,163.40 L294.10,165.13 L295.10,166.80 L296.10,168.08 L297.10,169.47 L298.10,170.84 L299.10,172.23 L300.10,173.51 L301.10,174.86 L302.10,176.16 L303.10,176.89 L304.10,177.85 L305.10,179.17 L306.10,179.70 L307.10,180.44 L308.10,180.90 L309.10,180.94 L310.10,181.70 L311.10,181.73 L312.10,181.57 L313.10,181.69 L314.10,181.59 L315.10,181.42 L316.10,181.50 L317.10,181.52 L318.10,181.58 L319.10,181.46 L320.10,181.26 L321.10,181.31 L322.10,180.81 L323.10,180.83 L324.10,180.65 L325.10,180.24 L326.10,179.86 L327.10,179.86 L328.10,179.85 L329.10,179.61 L330.10,179.39 L331.10,178.61 L332.10,178.34 L333.10,178.01 L334.10,177.43 L335.10,176.60 L336.10,176.54 L337.10,176.17 L338.10,175.31 L339.10,174.27 L340.10,173.52 L341.10,172.72 L342.10,172.12 L343.10,170.84 L344.10,169.73 L345.10,168.88 L346.10,167.54 L347.10,166.71 L348.10,165.15 L349.10,163.91 L350.10,162.74 L351.10,161.44 L352.10,159.90 L353.10,158.47 L354.10,156.83 L355.10,155.65 L356.10,154.27 L357.10,152.97 L358.10,152.03 L359.10,151.12 L360.10,150.90 L361.10,150.70 L362.10,150.74 L363.10,151.05 L364.10,151.41 L365.10,151.88 L366.10,152.93 L367.10,153.19 L368.10,153.01 L369.10,153.36 L370.10,153.16 L371.10,152.61 L372.10,152.03 L373.10,151.01 L374.10,149.79 L375.10,147.55 L376.10,144.65 L377.10,140.07 L378.10,135.56 L379.10,131.80 L380.10,129.36 L381.10,126.51 L382.10,124.08 L383.10,123.08 L384.10,123.27 L385.10,125.63 L386.10,127.98 L387.10,131.51 L388.10,135.67 L389.10,139.94 L390.10,144.86 L391.10,149.28 L392.10,154.53 L393.10,158.78 L394.10,162.87 L395.10,166.74 L396.10,170.00 L397.10,172.32 L398.10,174.57 L399.10,176.93 L400.10,178.73 L401.10,180.10 L402.10,181.61 L403.10,182.91 L404.10,183.93 L405.10,184.91 L406.10,185.89 L407.10,186.29 L408.10,186.86 L409.10,186.79 L410.10,186.99 L411.10,187.05 L412.10,187.38 L413.10,187.39 L414.10,187.48 L415.10,187.98 L416.10,188.20 L417.10,188.20 L418.10,188.36 L419.10,188.27 L420.10,188.19 L421.10,188.38 L422.10,188.38 L423.10,188.35 L424.10,188.33 L425.10,188.43 L426.10,188.72 L427.10,188.80 L428.10,188.76 L429.10,189.11 L430.10,188.97 L431.10,189.09 L432.10,189.24 L433.10,188.98 L434.10,188.86 L435.10,189.32 L436.10,189.16 L436.80,189.30" fill="none" stroke="#4a4a4a" stroke-width="1.25" stroke-linejoin="round"/>
<path d="M222.10,272.78 L223.10,272.97 L224.10,272.84 L225.10,272.74 L226.10,272.90 L227.10,272.70 L228.10,272.59 L229.10,272.84 L230.10,272.44 L231.10,272.26 L232.10,272.18 L233.10,272.24 L234.10,272.36 L235.10,272.32 L236.10,272.30 L237.10,272.34 L238.10,272.25 L239.10,272.03 L240.10,272.06 L241.10,271.90 L242.10,271.64 L243.10,271.79 L244.10,271.60 L245.10,271.49 L246.10,271.76 L247.10,271.50 L248.10,271.24 L249.10,271.22 L250.10,271.51 L251.10,271.04 L252.10,271.11 L253.10,271.01 L254.10,270.92 L255.10,270.85 L256.10,270.62 L257.10,270.54 L258.10,270.50 L259.10,270.38 L260.10,270.46 L261.10,270.45 L262.10,269.94 L263.10,269.99 L264.10,269.57 L265.10,269.42 L266.10,269.27 L267.10,269.03 L268.10,268.55 L269.10,267.70 L270.10,267.62 L271.10,266.52 L272.10,265.46 L273.10,264.50 L274.10,263.03 L275.10,261.56 L276.10,260.42 L277.10,258.84 L278.10,256.97 L279.10,255.52 L280.10,253.78 L281.10,251.97 L282.10,250.81 L283.10,249.01 L284.10,247.40 L285.10,246.57 L286.10,245.78 L287.10,245.42 L288.10,244.84 L289.10,245.27 L290.10,245.67 L291.10,246.49 L292.10,247.68 L293.10,249.18 L294.10,250.52 L295.10,251.96 L296.10,253.51 L297.10,255.53 L298.10,257.16 L299.10,258.57 L300.10,259.88 L301.10,261.25 L302.10,261.99 L303.10,263.56 L304.10,264.16 L305.10,265.47 L306.10,266.33 L307.10,267.04 L308.10,267.10 L309.10,267.55 L310.10,267.70 L311.10,267.52 L312.10,268.08 L313.10,268.04 L314.10,268.12 L315.10,267.99 L316.10,268.10 L317.10,268.05 L318.10,268.14 L319.10,267.87 L320.10,268.24 L321.10,267.53 L322.10,267.44 L323.10,267.39 L324.10,267.21 L325.10,267.51 L326.10,267.33 L327.10,266.99 L328.10,267.13 L329.10,267.19 L330.10,266.68 L331.10,266.77 L332.10,266.56 L333.10,266.78 L334.10,266.29 L335.10,265.90 L336.10,265.53 L337.10,265.46 L338.10,264.56 L339.10,264.35 L340.10,263.02 L341.10,262.39 L342.10,261.46 L343.10,260.40 L344.10,259.42 L345.10,258.44 L346.10,257.07 L347.10,255.73 L348.10,254.87 L349.10,253.49 L350.10,251.54 L351.10,249.84 L352.10,247.47 L353.10,246.23 L354.10,244.25 L355.10,242.78 L356.10,241.69 L357.10,239.81 L358.10,238.91 L359.10,237.99 L360.10,237.53 L361.10,237.53 L362.10,237.82 L363.10,237.81 L364.10,238.24 L365.10,238.81 L366.10,239.10 L367.10,239.48 L368.10,240.50 L369.10,240.79 L370.10,241.30 L371.10,241.22 L372.10,241.66 L373.10,240.34 L374.10,238.25 L375.10,235.47 L376.10,231.88 L377.10,227.90 L378.10,222.94 L379.10,218.15 L380.10,213.91 L381.10,209.89 L382.10,206.52 L383.10,203.88 L384.10,202.68 L385.10,203.64 L386.10,205.38 L387.10,208.16 L388.10,212.51 L389.10,217.88 L390.10,223.23 L391.10,229.89 L392.10,236.06 L393.10,241.55 L394.10,246.18 L395.10,250.92 L396.10,254.67 L397.10,257.80 L398.10,260.92 L399.10,263.06 L400.10,265.23 L401.10,266.70 L402.10,267.94 L403.10,269.24 L404.10,270.13 L405.10,270.92 L406.10,271.74 L407.10,272.47 L408.10,272.88 L409.10,273.32 L410.10,273.66 L411.10,274.19 L412.10,274.46 L413.10,274.82 L414.10,274.93 L415.10,275.36 L416.10,274.92 L417.10,275.26 L418.10,275.45 L419.10,275.59 L420.10,275.32 L421.10,275.46 L422.10,275.72 L423.10,275.96 L424.10,276.03 L425.10,275.70 L426.10,276.01 L427.10,276.22 L428.10,276.10 L429.10,275.99 L430.10,276.09 L431.10,276.04 L432.10,276.47 L433.10,276.30 L434.10,276.32 L435.10,276.30 L436.10,276.46 L436.60,276.50" fill="none" stroke="#4a4a4a" stroke-width="1.25" stroke-linejoin="round"/>
<path d="M222.10,358.49 L223.10,358.73 L224.10,358.39 L225.10,358.24 L226.10,358.56 L227.10,358.62 L228.10,358.59 L229.10,358.61 L230.10,358.52 L231.10,358.45 L232.10,358.43 L233.10,358.51 L234.10,358.48 L235.10,358.67 L236.10,358.61 L237.10,358.32 L238.10,358.61 L239.10,358.49 L240.10,358.66 L241.10,358.71 L242.10,358.57 L243.10,358.21 L244.10,358.57 L245.10,358.22 L246.10,358.69 L247.10,358.33 L248.10,358.39 L249.10,358.67 L250.10,358.09 L251.10,358.33 L252.10,358.12 L253.10,358.15 L254.10,358.03 L255.10,358.17 L256.10,357.93 L257.10,357.92 L258.10,357.85 L259.10,357.37 L260.10,357.69 L261.10,357.28 L262.10,356.89 L263.10,356.84 L264.10,356.84 L265.10,356.61 L266.10,356.06 L267.10,355.86 L268.10,355.52 L269.10,355.22 L270.10,354.57 L271.10,354.20 L272.10,353.30 L273.10,352.63 L274.10,352.05 L275.10,351.12 L276.10,349.76 L277.10,348.23 L278.10,346.39 L279.10,344.97 L280.10,343.88 L281.10,342.78 L282.10,341.93 L283.10,340.97 L284.10,340.28 L285.10,339.50 L286.10,339.71 L287.10,339.74 L288.10,340.06 L289.10,340.08 L290.10,340.86 L291.10,341.59 L292.10,342.32 L293.10,343.85 L294.10,345.11 L295.10,345.96 L296.10,347.44 L297.10,348.77 L298.10,349.34 L299.10,350.54 L300.10,351.43 L301.10,352.20 L302.10,352.37 L303.10,353.02 L304.10,353.76 L305.10,354.39 L306.10,354.42 L307.10,354.78 L308.10,354.88 L309.10,355.31 L310.10,355.11 L311.10,355.33 L312.10,355.36 L313.10,355.43 L314.10,355.31 L315.10,355.27 L316.10,355.37 L317.10,355.23 L318.10,354.93 L319.10,355.01 L320.10,355.20 L321.10,355.05 L322.10,354.96 L323.10,355.03 L324.10,355.50 L325.10,354.97 L326.10,355.05 L327.10,355.03 L328.10,354.89 L329.10,355.07 L330.10,354.94 L331.10,354.78 L332.10,354.42 L333.10,354.71 L334.10,354.48 L335.10,354.15 L336.10,353.49 L337.10,353.57 L338.10,353.03 L339.10,352.79 L340.10,352.30 L341.10,351.73 L342.10,351.42 L343.10,350.57 L344.10,349.86 L345.10,348.42 L346.10,347.27 L347.10,346.17 L348.10,344.71 L349.10,343.40 L350.10,342.34 L351.10,341.39 L352.10,340.53 L353.10,339.78 L354.10,338.90 L355.10,338.30 L356.10,337.71 L357.10,337.06 L358.10,336.77 L359.10,336.28 L360.10,335.82 L361.10,335.65 L362.10,335.76 L363.10,335.95 L364.10,336.20 L365.10,336.96 L366.10,337.45 L367.10,338.03 L368.10,337.93 L369.10,337.72 L370.10,337.17 L371.10,336.27 L372.10,335.31 L373.10,333.73 L374.10,331.86 L375.10,329.45 L376.10,326.18 L377.10,322.22 L378.10,317.78 L379.10,313.67 L380.10,309.89 L381.10,305.51 L382.10,302.61 L383.10,299.85 L384.10,299.08 L385.10,299.74 L386.10,300.81 L387.10,303.58 L388.10,306.78 L389.10,311.26 L390.10,316.22 L391.10,321.58 L392.10,327.40 L393.10,332.58 L394.10,336.84 L395.10,340.67 L396.10,343.66 L397.10,346.74 L398.10,348.84 L399.10,350.91 L400.10,352.07 L401.10,353.18 L402.10,354.15 L403.10,355.27 L404.10,355.85 L405.10,356.71 L406.10,356.94 L407.10,357.39 L408.10,358.03 L409.10,358.26 L410.10,358.72 L411.10,359.01 L412.10,359.19 L413.10,359.17 L414.10,359.42 L415.10,360.06 L416.10,359.80 L417.10,359.99 L418.10,360.05 L419.10,360.10 L420.10,360.15 L421.10,360.15 L422.10,360.21 L423.10,360.04 L424.10,360.67 L425.10,360.46 L426.10,360.33 L427.10,360.66 L428.10,360.73 L429.10,360.44 L430.10,360.62 L431.10,360.97 L432.10,360.85 L433.10,360.87 L434.10,360.99 L435.10,360.84 L436.10,360.85 L436.60,360.90" fill="none" stroke="#4a4a4a" stroke-width="1.25" stroke-linejoin="round"/>
<path d="M454.50,91.79 L455.50,91.83 L456.50,91.23 L457.50,91.11 L458.50,91.33 L459.50,91.56 L460.50,91.11 L461.50,90.58 L462.50,90.51 L463.50,90.47 L464.50,90.45 L465.50,89.92 L466.50,89.51 L467.50,89.19 L468.50,88.92 L469.50,88.32 L470.50,88.12 L471.50,87.81 L472.50,87.77 L473.50,87.00 L474.50,86.90 L475.50,86.06 L476.50,86.17 L477.50,85.63 L478.50,85.08 L479.50,84.80 L480.50,84.60 L481.50,83.83 L482.50,83.66 L483.50,83.26 L484.50,82.74 L485.50,82.17 L486.50,80.85 L487.50,80.60 L488.50,79.66 L489.50,79.31 L490.50,78.29 L491.50,77.44 L492.50,76.52 L493.50,75.17 L494.50,74.12 L495.50,72.54 L496.50,71.63 L497.50,69.22 L498.50,67.44 L499.50,65.10 L500.50,63.24 L501.50,61.41 L502.50,59.74 L503.50,57.55 L504.50,55.08 L505.50,52.29 L506.50,50.16 L507.50,46.59 L508.50,43.55 L509.50,40.72 L510.50,37.39 L511.50,34.98 L512.50,32.91 L513.50,31.06 L514.50,30.30 L515.50,30.22 L516.50,30.94 L517.50,32.17 L518.50,35.12 L519.50,38.24 L520.50,40.91 L521.50,44.53 L522.50,48.35 L523.50,52.41 L524.50,55.66 L525.50,60.04 L526.50,64.36 L527.50,68.24 L528.50,71.43 L529.50,75.58 L530.50,77.75 L531.50,80.61 L532.50,82.42 L533.50,84.45 L534.50,86.39 L535.50,87.45 L536.50,88.21 L537.50,88.52 L538.50,89.01 L539.50,89.16 L540.50,90.23 L541.50,89.44 L542.50,89.19 L543.50,90.21 L544.50,90.13 L545.50,89.64 L546.50,90.06 L547.50,89.97 L548.50,90.43 L549.50,91.09 L550.50,91.51 L551.50,91.82 L552.50,92.81 L553.50,92.97 L554.50,93.10 L555.50,92.96 L556.50,93.42 L557.50,93.41 L558.50,93.54 L559.50,93.82 L560.50,93.53 L561.50,93.78 L562.50,93.95 L563.50,93.88 L564.50,94.40 L565.50,93.44 L566.50,93.90 L567.50,93.67 L568.50,93.99 L569.50,94.67 L570.50,93.68 L571.50,94.05 L572.50,94.32 L573.50,94.22 L574.50,94.45 L575.50,93.87 L576.50,94.52 L577.50,94.07 L578.50,94.02 L579.50,94.49 L580.50,94.48 L581.50,94.20 L582.50,94.19 L583.50,94.36 L584.50,94.42 L585.50,94.39 L586.50,94.19 L587.50,93.88 L588.50,94.80 L589.50,94.52 L590.50,94.18 L591.50,94.12" fill="none" stroke="#4a4a4a" stroke-width="1.25" stroke-linejoin="round"/>
<path d="M454.60,178.51 L455.60,178.30 L456.60,179.85 L457.60,178.69 L458.60,178.61 L459.60,178.76 L460.60,178.41 L461.60,178.36 L462.60,178.91 L463.60,178.51 L464.60,179.03 L465.60,178.58 L466.60,177.89 L467.60,178.04 L468.60,178.18 L469.60,177.65 L470.60,178.39 L471.60,178.25 L472.60,178.71 L473.60,177.91 L474.60,178.14 L475.60,178.45 L476.60,178.49 L477.60,177.73 L478.60,178.76 L479.60,177.80 L480.60,178.49 L481.60,177.75 L482.60,177.52 L483.60,176.91 L484.60,177.00 L485.60,177.55 L486.60,175.74 L487.60,176.14 L488.60,175.51 L489.60,174.18 L490.60,174.12 L491.60,173.48 L492.60,172.01 L493.60,171.14 L494.60,171.02 L495.60,169.82 L496.60,169.58 L497.60,167.64 L498.60,165.20 L499.60,163.30 L500.60,160.55 L501.60,159.16 L502.60,156.60 L503.60,152.32 L504.60,149.78 L505.60,149.04 L506.60,146.54 L507.60,144.47 L508.60,140.89 L509.60,139.29 L510.60,137.62 L511.60,135.94 L512.60,136.02 L513.60,133.88 L514.60,131.13 L515.60,130.20 L516.60,128.63 L517.60,129.86 L518.60,129.74 L519.60,128.92 L520.60,128.80 L521.60,129.76 L522.60,131.99 L523.60,133.38 L524.60,134.85 L525.60,136.67 L526.60,138.17 L527.60,140.38 L528.60,141.90 L529.60,143.66 L530.60,144.47 L531.60,146.55 L532.60,148.06 L533.60,149.47 L534.60,150.73 L535.60,151.23 L536.60,150.83 L537.60,151.57 L538.60,150.86 L539.60,149.16 L540.60,148.21 L541.60,144.82 L542.60,139.58 L543.60,134.34 L544.60,129.58 L545.60,123.76 L546.60,118.34 L547.60,116.19 L548.60,114.25 L549.60,113.76 L550.60,116.03 L551.60,119.48 L552.60,124.78 L553.60,131.01 L554.60,138.71 L555.60,145.62 L556.60,152.70 L557.60,159.37 L558.60,165.72 L559.60,170.85 L560.60,174.26 L561.60,177.73 L562.60,180.12 L563.60,180.41 L564.60,180.82 L565.60,181.76 L566.60,182.23 L567.60,182.96 L568.60,183.27 L569.60,183.29 L570.60,183.77 L571.60,184.25 L572.60,184.02 L573.60,184.53 L574.60,184.28 L575.60,185.33 L576.60,185.59 L577.60,184.69 L578.60,185.52 L579.60,185.32 L580.60,185.36 L581.60,185.26 L582.60,185.53 L583.60,185.88 L584.60,184.97 L585.60,185.94 L586.60,185.43 L587.60,185.10 L588.60,185.57 L589.60,185.89 L589.70,185.60" fill="none" stroke="#4a4a4a" stroke-width="1.25" stroke-linejoin="round"/>
<path d="M453.90,267.86 L454.90,266.75 L455.90,267.29 L456.90,267.13 L457.90,266.95 L458.90,267.08 L459.90,267.12 L460.90,267.28 L461.90,267.46 L462.90,267.68 L463.90,267.39 L464.90,267.69 L465.90,267.45 L466.90,267.31 L467.90,267.17 L468.90,266.88 L469.90,266.64 L470.90,267.13 L471.90,267.05 L472.90,267.17 L473.90,267.11 L474.90,266.47 L475.90,266.58 L476.90,266.35 L477.90,267.01 L478.90,266.58 L479.90,266.64 L480.90,266.25 L481.90,266.02 L482.90,266.04 L483.90,265.77 L484.90,265.32 L485.90,263.95 L486.90,264.05 L487.90,263.23 L488.90,262.99 L489.90,262.70 L490.90,262.26 L491.90,262.18 L492.90,261.91 L493.90,261.23 L494.90,260.25 L495.90,259.70 L496.90,258.73 L497.90,258.06 L498.90,257.15 L499.90,255.80 L500.90,255.29 L501.90,254.36 L502.90,253.44 L503.90,251.55 L504.90,250.47 L505.90,248.89 L506.90,247.01 L507.90,246.05 L508.90,244.77 L509.90,243.26 L510.90,241.29 L511.90,240.80 L512.90,239.42 L513.90,237.91 L514.90,237.48 L515.90,236.04 L516.90,235.37 L517.90,235.54 L518.90,235.31 L519.90,234.38 L520.90,233.88 L521.90,234.30 L522.90,233.97 L523.90,233.88 L524.90,233.84 L525.90,235.56 L526.90,235.04 L527.90,235.37 L528.90,236.68 L529.90,237.57 L530.90,238.16 L531.90,240.01 L532.90,240.63 L533.90,241.57 L534.90,242.36 L535.90,242.45 L536.90,242.83 L537.90,243.40 L538.90,241.78 L539.90,241.20 L540.90,239.77 L541.90,237.04 L542.90,233.78 L543.90,228.37 L544.90,221.92 L545.90,215.45 L546.90,209.99 L547.90,206.46 L548.90,203.95 L549.90,203.72 L550.90,206.83 L551.90,210.59 L552.90,215.14 L553.90,221.98 L554.90,228.12 L555.90,234.43 L556.90,240.60 L557.90,247.50 L558.90,253.35 L559.90,258.30 L560.90,262.53 L561.90,265.09 L562.90,266.38 L563.90,267.45 L564.90,268.84 L565.90,270.16 L566.90,270.62 L567.90,270.49 L568.90,271.42 L569.90,271.44 L570.90,271.30 L571.90,271.87 L572.90,271.89 L573.90,271.73 L574.90,272.13 L575.90,272.45 L576.90,272.92 L577.90,272.13 L578.90,272.59 L579.90,272.52 L580.90,272.50 L581.90,272.11 L582.90,273.04 L583.90,273.13 L584.90,273.32 L585.90,273.02 L586.90,273.48 L587.90,273.25 L588.90,273.52 L589.90,273.15 L590.10,273.30" fill="none" stroke="#4a4a4a" stroke-width="1.25" stroke-linejoin="round"/>
<path d="M454.30,354.20 L456.70,355.20 L459.50,353.30 L461.40,357.30 L463.30,355.80 L465.60,353.30 L468.40,357.30 L470.80,353.30 L473.60,356.10 L475.50,354.70 L477.30,355.60 L479.70,352.80 L481.50,358.00 L483.40,354.70 L485.30,354.20 L487.20,356.60 L488.60,352.40 L490.50,356.10 L492.30,351.40 L494.20,356.10 L496.10,352.40 L498.00,351.00 L499.40,351.90 L501.20,349.10 L503.10,350.00 L505.50,349.10 L507.30,345.80 L508.80,344.40 L509.70,342.50 L511.10,341.10 L512.50,339.20 L513.90,335.00 L515.20,330.90 L517.10,324.00 L518.30,320.10 L520.30,315.70 L521.50,307.40 L522.80,306.20 L524.10,297.30 L525.30,288.40 L526.60,289.60 L527.90,290.90 L529.80,292.80 L531.10,296.00 L532.30,297.90 L533.60,305.50 L535.50,311.20 L537.40,315.00 L538.70,318.90 L540.60,317.60 L542.50,312.50 L543.80,302.30 L545.70,298.50 L547.20,292.80 L548.20,297.30 L550.10,296.60 L551.40,302.30 L552.70,311.20 L553.90,316.30 L554.60,322.00 L555.50,332.20 L557.30,337.10 L559.20,348.70 L561.60,351.20 L563.40,354.20 L565.30,355.50 L565.90,358.50 L567.10,356.70 L569.60,357.90 L572.60,358.50 L574.40,360.30 L575.70,357.90 L578.10,360.30 L580.60,358.50 L582.40,360.10 L584.80,359.10 L586.70,359.70 L588.90,357.90 L590.30,358.90 L591.80,360.60" fill="none" stroke="#4a4a4a" stroke-width="1.25" stroke-linejoin="round"/>
<path d="M609.70,96.54 L610.70,96.43 L611.70,96.53 L612.70,96.06 L613.70,95.82 L614.70,95.70 L615.70,95.09 L616.70,95.26 L617.70,95.07 L618.70,94.60 L619.70,95.01 L620.70,94.13 L621.70,93.93 L622.70,93.77 L623.70,93.67 L624.70,93.56 L625.70,92.63 L626.70,92.48 L627.70,92.77 L628.70,92.15 L629.70,91.84 L630.70,91.61 L631.70,91.68 L632.70,91.06 L633.70,90.48 L634.70,89.90 L635.70,89.38 L636.70,88.84 L637.70,87.82 L638.70,86.71 L639.70,86.00 L640.70,84.69 L641.70,83.01 L642.70,81.93 L643.70,79.85 L644.70,77.28 L645.70,74.25 L646.70,70.98 L647.70,67.88 L648.70,65.33 L649.70,61.46 L650.70,58.42 L651.70,54.36 L652.70,50.49 L653.70,46.35 L654.70,42.80 L655.70,38.53 L656.70,35.13 L657.70,31.65 L658.70,28.32 L659.70,26.74 L660.70,26.13 L661.70,26.95 L662.70,28.49 L663.70,31.16 L664.70,35.68 L665.70,40.08 L666.70,45.37 L667.70,50.40 L668.70,55.46 L669.70,60.46 L670.70,64.33 L671.70,68.19 L672.70,71.66 L673.70,74.47 L674.70,77.02 L675.70,78.90 L676.70,81.09 L677.70,82.56 L678.70,83.72 L679.70,85.06 L680.70,86.36 L681.70,87.27 L682.70,88.22 L683.70,89.33 L684.70,89.80 L685.70,90.78 L686.70,91.38 L687.70,91.89 L688.70,92.73 L689.70,93.47 L690.70,93.58 L691.70,93.87 L692.70,94.61 L693.70,94.76 L694.70,95.01 L695.70,95.38 L696.70,95.41 L697.70,95.56 L698.70,95.96 L699.70,96.02 L700.70,95.85 L701.70,96.50 L702.70,96.50 L703.70,96.97 L704.70,96.75 L705.70,96.48 L706.70,96.99 L707.70,97.04 L708.70,97.53 L709.70,97.50 L710.70,97.61 L711.70,97.31 L712.70,97.47 L713.70,97.80 L714.70,97.33 L715.70,97.67 L716.70,97.87 L717.70,97.55 L718.70,97.71 L719.70,97.24 L720.70,97.98 L721.70,97.51 L722.70,98.00 L723.70,97.80 L724.70,97.44 L725.70,97.47 L726.00,97.80" fill="none" stroke="#4a4a4a" stroke-width="1.25" stroke-linejoin="round"/>
<path d="M609.60,185.70 L610.60,185.55 L611.60,185.25 L612.60,185.62 L613.60,185.44 L614.60,185.40 L615.60,185.31 L616.60,185.55 L617.60,185.36 L618.60,185.37 L619.60,185.00 L620.60,184.93 L621.60,184.78 L622.60,184.91 L623.60,184.36 L624.60,185.24 L625.60,184.89 L626.60,184.83 L627.60,184.93 L628.60,184.59 L629.60,184.63 L630.60,184.62 L631.60,183.98 L632.60,184.55 L633.60,184.05 L634.60,183.98 L635.60,183.42 L636.60,183.26 L637.60,183.46 L638.60,182.61 L639.60,182.16 L640.60,181.78 L641.60,181.30 L642.60,179.63 L643.60,179.42 L644.60,177.88 L645.60,176.52 L646.60,174.36 L647.60,172.56 L648.60,170.35 L649.60,167.09 L650.60,163.60 L651.60,159.78 L652.60,155.56 L653.60,151.40 L654.60,146.65 L655.60,141.28 L656.60,136.02 L657.60,130.45 L658.60,125.99 L659.60,122.97 L660.60,119.07 L661.60,117.61 L662.60,118.03 L663.60,119.62 L664.60,122.18 L665.60,125.37 L666.60,129.90 L667.60,135.04 L668.60,140.17 L669.60,145.99 L670.60,151.78 L671.60,156.09 L672.60,160.68 L673.60,165.14 L674.60,168.59 L675.60,171.55 L676.60,173.37 L677.60,175.28 L678.60,176.28 L679.60,176.63 L680.60,177.45 L681.60,177.24 L682.60,177.87 L683.60,177.79 L684.60,177.82 L685.60,178.24 L686.60,178.06 L687.60,177.93 L688.60,178.16 L689.60,178.21 L690.60,179.03 L691.60,179.34 L692.60,179.54 L693.60,179.97 L694.60,180.97 L695.60,181.59 L696.60,182.45 L697.60,182.63 L698.60,183.22 L699.60,184.08 L700.60,184.56 L701.60,185.20 L702.60,185.60 L703.60,185.43 L704.60,185.30 L705.60,185.95 L706.60,185.86 L707.60,186.13 L708.60,185.54 L709.60,186.14 L710.60,186.22 L711.60,186.13 L712.60,186.42 L713.60,186.39 L714.60,186.47 L715.60,186.76 L716.60,186.81 L717.60,186.84 L718.60,186.71 L719.60,186.72 L720.60,186.86 L721.60,186.85 L722.60,186.68 L723.60,186.97 L724.60,187.13 L725.60,186.90 L726.00,187.00" fill="none" stroke="#4a4a4a" stroke-width="1.25" stroke-linejoin="round"/>
<path d="M609.60,273.42 L610.60,273.32 L611.60,273.07 L612.60,273.58 L613.60,272.82 L614.60,273.10 L615.60,273.25 L616.60,273.15 L617.60,273.10 L618.60,272.71 L619.60,273.25 L620.60,272.66 L621.60,272.73 L622.60,272.66 L623.60,272.58 L624.60,272.38 L625.60,272.71 L626.60,272.31 L627.60,272.39 L628.60,271.76 L629.60,272.08 L630.60,271.78 L631.60,271.75 L632.60,271.54 L633.60,271.39 L634.60,271.04 L635.60,270.79 L636.60,270.48 L637.60,270.12 L638.60,269.62 L639.60,268.97 L640.60,268.47 L641.60,267.43 L642.60,267.19 L643.60,266.04 L644.60,265.16 L645.60,263.61 L646.60,261.88 L647.60,259.97 L648.60,257.82 L649.60,255.09 L650.60,251.88 L651.60,248.13 L652.60,243.99 L653.60,238.20 L654.60,233.35 L655.60,227.31 L656.60,222.01 L657.60,216.10 L658.60,211.19 L659.60,206.21 L660.60,203.23 L661.60,201.77 L662.60,201.50 L663.60,202.33 L664.60,204.90 L665.60,209.05 L666.60,214.35 L667.60,219.62 L668.60,225.33 L669.60,232.05 L670.60,237.87 L671.60,243.26 L672.60,248.09 L673.60,252.59 L674.60,256.72 L675.60,259.45 L676.60,260.82 L677.60,261.93 L678.60,262.90 L679.60,263.39 L680.60,263.66 L681.60,263.37 L682.60,263.10 L683.60,263.20 L684.60,262.68 L685.60,262.23 L686.60,261.89 L687.60,261.74 L688.60,261.71 L689.60,262.14 L690.60,262.73 L691.60,263.96 L692.60,264.38 L693.60,264.71 L694.60,265.85 L695.60,267.25 L696.60,268.11 L697.60,269.70 L698.60,269.99 L699.60,270.67 L700.60,271.36 L701.60,271.80 L702.60,272.40 L703.60,272.62 L704.60,273.05 L705.60,273.12 L706.60,272.92 L707.60,273.69 L708.60,274.05 L709.60,273.59 L710.60,273.72 L711.60,274.03 L712.60,273.80 L713.60,273.96 L714.60,273.94 L715.60,274.16 L716.60,274.05 L717.60,274.54 L718.60,274.17 L719.60,274.14 L720.60,273.93 L721.60,274.28 L722.60,274.10 L723.60,274.46 L724.60,274.47 L725.60,274.93 L726.00,274.40" fill="none" stroke="#4a4a4a" stroke-width="1.25" stroke-linejoin="round"/>
<path d="M609.60,357.14 L610.60,357.28 L611.60,357.47 L612.60,357.27 L613.60,357.18 L614.60,357.08 L615.60,357.54 L616.60,357.36 L617.60,357.26 L618.60,357.18 L619.60,356.86 L620.60,357.34 L621.60,357.09 L622.60,357.21 L623.60,357.44 L624.60,357.00 L625.60,356.97 L626.60,357.11 L627.60,356.80 L628.60,356.78 L629.60,356.43 L630.60,356.38 L631.60,356.14 L632.60,356.54 L633.60,356.47 L634.60,355.98 L635.60,355.90 L636.60,355.67 L637.60,356.07 L638.60,355.49 L639.60,354.96 L640.60,354.76 L641.60,354.43 L642.60,353.39 L643.60,352.96 L644.60,351.96 L645.60,350.61 L646.60,349.39 L647.60,347.84 L648.60,345.57 L649.60,342.97 L650.60,340.30 L651.60,336.84 L652.60,333.10 L653.60,329.28 L654.60,324.69 L655.60,320.33 L656.60,315.62 L657.60,311.30 L658.60,306.72 L659.60,302.65 L660.60,299.08 L661.60,296.54 L662.60,295.41 L663.60,295.60 L664.60,297.38 L665.60,300.14 L666.60,304.07 L667.60,308.65 L668.60,313.82 L669.60,319.16 L670.60,325.88 L671.60,332.11 L672.60,337.27 L673.60,340.90 L674.60,344.38 L675.60,346.98 L676.60,348.89 L677.60,350.50 L678.60,351.39 L679.60,351.77 L680.60,352.26 L681.60,352.37 L682.60,353.12 L683.60,352.88 L684.60,352.84 L685.60,352.63 L686.60,352.83 L687.60,352.82 L688.60,352.72 L689.60,352.53 L690.60,352.88 L691.60,353.39 L692.60,354.30 L693.60,354.66 L694.60,355.19 L695.60,355.88 L696.60,355.43 L697.60,355.99 L698.60,356.25 L699.60,356.15 L700.60,356.82 L701.60,356.72 L702.60,356.99 L703.60,357.17 L704.60,357.46 L705.60,357.18 L706.60,357.30 L707.60,357.28 L708.60,357.38 L709.60,358.07 L710.60,357.70 L711.60,357.51 L712.60,358.05 L713.60,358.30 L714.60,357.78 L715.60,357.98 L716.60,357.72 L717.60,357.60 L718.60,357.96 L719.60,357.75 L720.60,357.74 L721.60,357.97 L722.60,358.03 L723.60,357.89 L724.60,358.18 L725.60,357.78 L726.00,357.90" fill="none" stroke="#4a4a4a" stroke-width="1.25" stroke-linejoin="round"/>
<text transform="translate(90.2,14.8) scale(0.965,1)" font-size="14.0" font-weight="bold" fill="#111">B 1s</text>
<text transform="translate(225.3,14.8) scale(0.965,1)" font-size="14.0" font-weight="bold" fill="#111">C 1s</text>
<text transform="translate(459.2,14.8) scale(0.965,1)" font-size="14.0" font-weight="bold" fill="#111">O 1s</text>
<text transform="translate(616.1,14.8) scale(0.965,1)" font-size="14.0" font-weight="bold" fill="#111">F 1s</text>
<text transform="translate(54,51.1) scale(1.075,1)" font-size="13.8" font-weight="bold" fill="#111" text-anchor="middle"><tspan dy="0">Li[CO</tspan><tspan font-size="9.6" dy="4">2</tspan><tspan dy="-4">CF</tspan><tspan font-size="9.6" dy="4">3</tspan><tspan dy="-4">]</tspan></text>
<text transform="translate(54,69.6) scale(1.075,1)" font-size="13.8" font-weight="bold" fill="#111" text-anchor="middle"><tspan dy="0">+ BF</tspan><tspan font-size="9.6" dy="4">3</tspan><tspan dy="-4">·PC</tspan></text>
<text transform="translate(54,142.4) scale(1.075,1)" font-size="13.8" font-weight="bold" fill="#111" text-anchor="middle"><tspan dy="0">Li[OCH</tspan><tspan font-size="9.6" dy="4">2</tspan><tspan dy="-4">CF</tspan><tspan font-size="9.6" dy="4">3</tspan><tspan dy="-4">]</tspan></text>
<text transform="translate(54,160.4) scale(1.075,1)" font-size="13.8" font-weight="bold" fill="#111" text-anchor="middle"><tspan dy="0">+ BF</tspan><tspan font-size="9.6" dy="4">3</tspan><tspan dy="-4">·EMC</tspan></text>
<text transform="translate(54,233.3) scale(1.075,1)" font-size="13.8" font-weight="bold" fill="#111" text-anchor="middle"><tspan dy="0">Li[OC(H)(CF</tspan><tspan font-size="9.6" dy="4">3</tspan><tspan dy="-4">)</tspan><tspan font-size="9.6" dy="4">2</tspan><tspan dy="-4">]</tspan></text>
<text transform="translate(54,250.9) scale(1.075,1)" font-size="13.8" font-weight="bold" fill="#111" text-anchor="middle"><tspan dy="0">+ BF</tspan><tspan font-size="9.6" dy="4">3</tspan><tspan dy="-4">·EMC</tspan></text>
<text transform="translate(54,342.8) scale(1.075,1)" font-size="13.8" font-weight="bold" fill="#111" text-anchor="middle"><tspan dy="0">fresh</tspan></text>
<text transform="translate(256.0,88.3) rotate(-90) scale(1.075,1)" font-size="10.5" font-weight="bold" fill="#111"><tspan dy="0">CF</tspan><tspan font-size="7.2" dy="2.6">3</tspan></text>
<text transform="translate(287.0,72.5) rotate(-90) scale(1.075,1)" font-size="10.5" font-weight="bold" fill="#111"><tspan dy="0">C-F</tspan><tspan font-size="7.2" dy="2.6">PVDF</tspan></text>
<text transform="translate(304.0,78.2) rotate(-90) scale(1.075,1)" font-size="10.5" font-weight="bold" fill="#111"><tspan dy="0">Li</tspan><tspan font-size="7.2" dy="2.6">2</tspan><tspan dy="-2.6">CO</tspan><tspan font-size="7.2" dy="2.6">3</tspan><tspan dy="-2.6">/RLiCO</tspan><tspan font-size="7.2" dy="2.6">3</tspan></text>
<text transform="translate(337.3,78.8) rotate(-90) scale(1.075,1)" font-size="10.5" font-weight="bold" fill="#111"><tspan dy="0">C=O</tspan></text>
<text transform="translate(353.8,60.8) rotate(-90) scale(1.075,1)" font-size="10.5" font-weight="bold" fill="#111"><tspan dy="0">C-O</tspan></text>
<text transform="translate(375.8,46.0) rotate(-90) scale(1.075,1)" font-size="10.5" font-weight="bold" fill="#111"><tspan dy="0">C-H</tspan><tspan font-size="7.2" dy="2.6">PVDF</tspan></text>
<text transform="translate(389.3,38.8) rotate(-90) scale(1.075,1)" font-size="10.5" font-weight="bold" fill="#111"><tspan dy="0">C-C</tspan></text>
<text transform="translate(503.2,43.0) rotate(-90) scale(1.075,1)" font-size="10.5" font-weight="bold" fill="#111"><tspan dy="0">C-O</tspan></text>
<text transform="translate(535.3,43.8) rotate(-90) scale(1.075,1)" font-size="10.5" font-weight="bold" fill="#111"><tspan dy="0">C=O</tspan></text>
<text transform="translate(555.0,84.6) rotate(-90) scale(1.075,1)" font-size="10.5" font-weight="bold" fill="#111"><tspan dy="0">MO</tspan></text>
<text transform="translate(678.5,37.3) rotate(-90) scale(1.075,1)" font-size="10.5" font-weight="bold" fill="#111"><tspan dy="0">C-F</tspan></text>
<text transform="translate(697.3,90.0) rotate(-90) scale(1.075,1)" font-size="10.5" font-weight="bold" fill="#111"><tspan dy="0">LiF</tspan></text>
</svg>
</body></html>
